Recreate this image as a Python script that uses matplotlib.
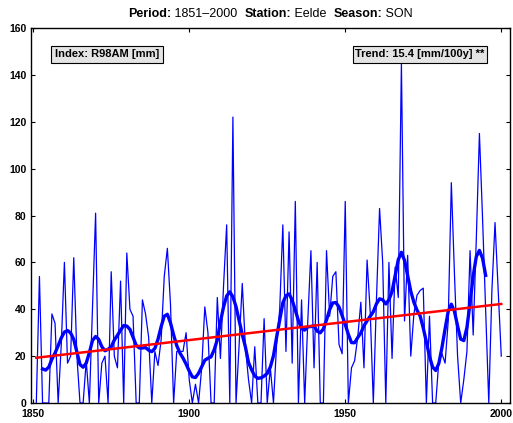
import numpy as np
import matplotlib
matplotlib.use("Agg")
import matplotlib.pyplot as plt
from matplotlib.patches import Rectangle

plt.rcParams['font.family'] = ['Liberation Sans', 'DejaVu Sans']

years = list(range(1851, 2001))
r98am = [
    0, 54, 0, 0, 0, 38, 34, 0, 25, 60,          # 1851-1860
    17, 20, 62, 20, 0, 0, 18, 0, 40, 81,        # 1861-1870
    0, 17, 20, 0, 56, 20, 15, 52, 0, 64,        # 1871-1880
    40, 37, 0, 0, 44, 38, 28, 0, 22, 16,        # 1881-1890
    27, 54, 66, 42, 0, 22, 22, 22, 30, 10,      # 1891-1900
    0, 8, 0, 15, 41, 30, 0, 0, 45, 19,          # 1901-1910
    50, 76, 0, 122, 0, 25, 51, 24, 10, 0,       # 1911-1920
    24, 0, 0, 36, 0, 15, 0, 25, 40, 76,         # 1921-1930
    22, 73, 17, 86, 0, 44, 0, 35, 65, 15,       # 1931-1940
    60, 0, 0, 65, 37, 54, 56, 25, 21, 86,       # 1941-1950
    0, 15, 18, 28, 43, 15, 61, 39, 0, 44,       # 1951-1960
    83, 60, 0, 60, 19, 58, 45, 145, 35, 63,     # 1961-1970
    20, 38, 46, 48, 49, 0, 37, 0, 0, 18,        # 1971-1980
    21, 17, 35, 94, 55, 20, 0, 10, 22, 65,      # 1981-1990
    29, 70, 115, 79, 40, 0, 48, 77, 48, 20,     # 1991-2000
]
trend_start_value = 19.3      # mm in 1851
trend_per_century = 15.4      # mm/100y
trend_years = [1851, 2000]
smooth_sigma = 2.0            # years
smooth_range = [1853, 1995]   # years shown for the smoothed curve

title_parts = [("Period:", "bold"), (" 1851–2000  ", "normal"),
               ("Station:", "bold"), (" Eelde  ", "normal"),
               ("Season:", "bold"), (" SON", "normal")]
index_label = "Index: R98AM [mm]"
trend_label = "Trend: 15.4 [mm/100y] **"

x = np.array(years, dtype=float)
yv = np.array(r98am, dtype=float)

# Gaussian low-pass filter with renormalised weights near the ends
ys_full = np.empty_like(yv)
for i, xi in enumerate(x):
    w = np.exp(-0.5 * ((x - xi) / smooth_sigma) ** 2)
    w[np.abs(x - xi) > 4] = 0
    ys_full[i] = np.sum(w * yv) / np.sum(w)
m = (x >= smooth_range[0]) & (x <= smooth_range[1])
xs, ys = x[m], ys_full[m]

tx = np.array(trend_years, dtype=float)
ty = trend_start_value + trend_per_century / 100.0 * (tx - trend_years[0])

W, H = 513, 423
fig = plt.figure(figsize=(W / 100, H / 100), dpi=100)
ax = fig.add_axes([30.7 / W, 20 / H, 479.3 / W, 375 / H])

ax.plot(x, yv, color=(0, 0, 1), lw=0.9)
ax.plot(xs, ys, color=(0, 0, 1), lw=2.4)
ax.plot(tx, ty, color=(1, 0, 0), lw=1.8)

ax.set_xlim(1849.2, 2002.8)
ax.set_ylim(0, 160)
ax.set_xticks([1850, 1900, 1950, 2000])
ax.set_yticks(range(0, 161, 20))
ax.tick_params(direction='in', top=True, right=True, length=3, width=0.8,
               labelsize=7.5)
ax.tick_params(axis='x', pad=4)
ax.tick_params(axis='y', pad=3)
for lab in ax.get_xticklabels() + ax.get_yticklabels():
    lab.set_fontweight('bold')
for s in ax.spines.values():
    s.set_linewidth(1.0)

# label boxes (axes-fraction geometry)
def label_box(x0, x1, text):
    y0, y1 = 0.906, 0.953
    ax.add_patch(Rectangle((x0, y0), x1 - x0, y1 - y0, transform=ax.transAxes,
                           facecolor='#e4e4e4', edgecolor='black', lw=0.8, zorder=5))
    ax.text((x0 + x1) / 2, (y0 + y1) / 2, text, transform=ax.transAxes,
            ha='center', va='center', fontsize=8, fontweight='bold', zorder=6)

label_box(0.0417, 0.276, index_label)
label_box(0.672, 0.951, trend_label)

# title with mixed weights, centred over axes
fig.canvas.draw()
r = fig.canvas.get_renderer()
ty_fig = 1 - 17.0 / H
pieces = []
for s, wt in title_parts:
    t = fig.text(0, ty_fig, s, fontsize=9, fontweight=wt, ha='left', va='baseline')
    pieces.append(t)
widths = [p.get_window_extent(r).width for p in pieces]
total = sum(widths)
cx = (30.7 + 479.3 / 2)
xpos = cx - total / 2
for p, wd in zip(pieces, widths):
    p.set_x(xpos / W)
    xpos += wd

fig.savefig("out.png", dpi=100)
